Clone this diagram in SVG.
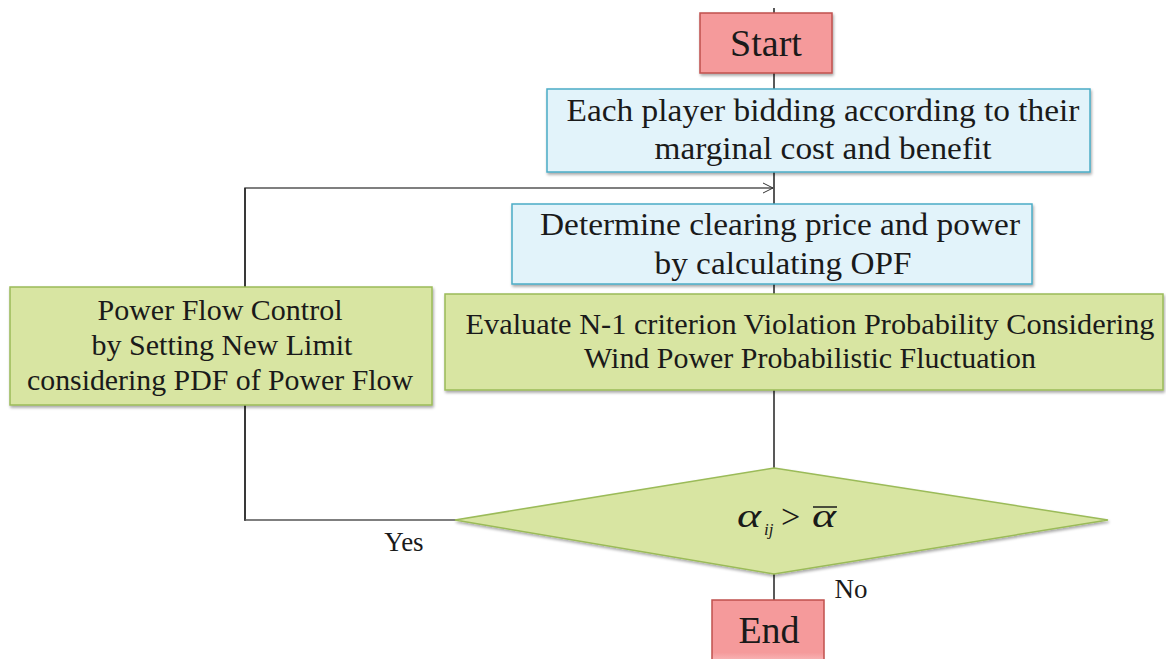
<svg xmlns="http://www.w3.org/2000/svg" width="1166" height="659" viewBox="0 0 1166 659">
  <defs>
    <filter id="shadow" x="-5%" y="-10%" width="110%" height="130%">
      <feGaussianBlur in="SourceAlpha" stdDeviation="1.5"/>
      <feOffset dx="1" dy="2" result="b"/>
      <feComponentTransfer><feFuncA type="linear" slope="0.35"/></feComponentTransfer>
      <feMerge><feMergeNode/><feMergeNode in="SourceGraphic"/></feMerge>
    </filter>
    <marker id="open" markerWidth="12" markerHeight="12" refX="11" refY="6" orient="auto" markerUnits="userSpaceOnUse">
      <path d="M1,1 L11,6 L1,11" fill="none" stroke="#333" stroke-width="1"/>
    </marker>
    <linearGradient id="endfill" x1="0" y1="0" x2="0" y2="1">
      <stop offset="0" stop-color="#F59A9B"/>
      <stop offset="0.75" stop-color="#F59A9B"/>
      <stop offset="1" stop-color="#FBD6D6"/>
    </linearGradient>
  </defs>
  <style>
    .terminal { fill: #F59A9B; stroke: #C0504D; stroke-width: 1.5; }
    .blue { fill: #E2F3FA; stroke: #4BACC6; stroke-width: 1.5; }
    .green { fill: #D8E5A2; stroke: #9BBB59; stroke-width: 1.5; }
    text { font-family: 'Liberation Serif', 'Times New Roman', serif; fill: #1a1a1a; }
    .t { text-anchor: middle; }
    .i { font-style: italic; }
    .wire { fill: none; stroke: #222; stroke-width: 1.5; }
    .gray { fill: none; stroke: #555; stroke-width: 1.5; }
  </style>
  <rect width="1166" height="659" fill="#fff"/>

  <!-- connectors -->
  <g id="connectors">
    <line class="wire" x1="774" y1="8" x2="774" y2="600"/>
    <path class="gray" d="M245,520 L245,188 L773,188" marker-end="url(#open)"/>
    <line class="wire" x1="245" y1="188" x2="245" y2="521"/>
    <line class="gray" x1="245" y1="520" x2="456" y2="520"/>
    <text class="t" x="404" y="551" font-size="27">Yes</text>
    <text class="t" x="851" y="598" font-size="27">No</text>
  </g>

  <g id="start">
    <rect class="terminal" x="700" y="13" width="132" height="60" filter="url(#shadow)"/>
    <text class="t" x="766" y="56" font-size="38">Start</text>
  </g>

  <g id="bidding">
    <rect class="blue" x="547" y="89" width="543" height="83" filter="url(#shadow)"/>
    <text class="t" x="823" y="121" font-size="32" textLength="513" lengthAdjust="spacingAndGlyphs">Each player bidding according to their</text>
    <text class="t" x="823" y="159" font-size="32" textLength="337" lengthAdjust="spacingAndGlyphs">marginal cost and benefit</text>
  </g>

  <g id="clearing">
    <rect class="blue" x="512" y="204" width="520" height="80" filter="url(#shadow)"/>
    <text class="t" x="780" y="235" font-size="31" textLength="480" lengthAdjust="spacingAndGlyphs">Determine clearing price and power</text>
    <text class="t" x="783" y="274" font-size="31" textLength="257" lengthAdjust="spacingAndGlyphs">by calculating OPF</text>
  </g>

  <g id="evaluate">
    <rect class="green" x="445" y="294" width="718" height="96" filter="url(#shadow)"/>
    <text class="t" x="810" y="334" font-size="29" textLength="689" lengthAdjust="spacingAndGlyphs">Evaluate N-1 criterion  Violation Probability Considering</text>
    <text class="t" x="810" y="368" font-size="29" textLength="452" lengthAdjust="spacingAndGlyphs">Wind Power  Probabilistic Fluctuation</text>
  </g>

  <g id="flow-control">
    <rect class="green" x="10" y="287" width="422" height="118" filter="url(#shadow)"/>
    <text class="t" x="220" y="320" font-size="30">Power Flow Control</text>
    <text class="t" x="222" y="355" font-size="30">by Setting New Limit</text>
    <text class="t" x="220" y="390" font-size="30" textLength="386" lengthAdjust="spacingAndGlyphs">considering PDF of Power Flow</text>
  </g>

  <g id="decision">
    <polygon class="green" points="774,468 1108,520 774,574 455,520" stroke-width="1.2" filter="url(#shadow)"/>
    <text class="i" x="737" y="527" font-size="34" textLength="24" lengthAdjust="spacingAndGlyphs">α</text>
    <text class="i" x="764" y="535" font-size="17">ij</text>
    <text x="781" y="528" font-size="34">&gt;</text>
    <text class="i" x="812" y="527" font-size="34" textLength="24" lengthAdjust="spacingAndGlyphs">α</text>
    <line x1="813" y1="507" x2="837" y2="507" stroke="#1a1a1a" stroke-width="1.5"/>
  </g>

  <g id="end">
    <rect x="712" y="600" width="112" height="70" fill="url(#endfill)" stroke="#C0504D" stroke-width="1.5"/>
    <text class="t" x="769" y="643" font-size="38">End</text>
  </g>
</svg>
